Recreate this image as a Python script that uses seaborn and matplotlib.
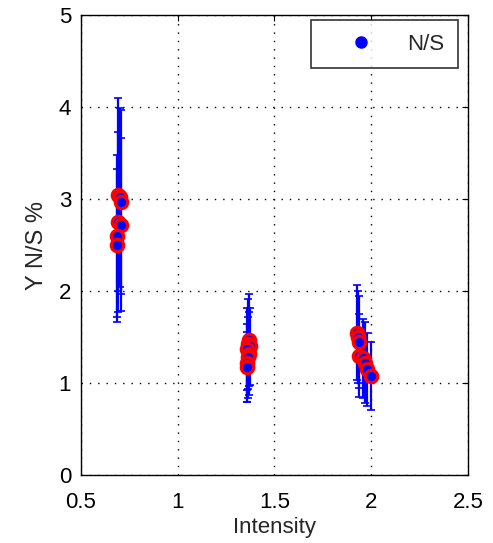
import numpy as np
import pandas as pd
import matplotlib
matplotlib.use("Agg")
import matplotlib.pyplot as plt
import seaborn as sns
from matplotlib.lines import Line2D

# Measurements: intensity, N/S percentage and its error
intensity = [0.690, 0.700, 0.705, 0.690, 0.710, 0.685, 0.685,
             1.370, 1.365, 1.375, 1.360, 1.370, 1.365, 1.360, 1.360,
             1.925, 1.930, 1.935, 1.940, 1.960, 1.970, 1.980, 2.000]
ns_percent = [3.05, 3.02, 2.97, 2.75, 2.72, 2.60, 2.50,
              1.47, 1.43, 1.40, 1.37, 1.32, 1.28, 1.22, 1.18,
              1.55, 1.50, 1.45, 1.30, 1.27, 1.22, 1.15, 1.08]
ns_error = [1.05, 0.97, 1.00, 0.98, 0.94, 0.88, 0.83,
            0.50, 0.49, 0.42, 0.45, 0.45, 0.44, 0.42, 0.38,
            0.52, 0.50, 0.50, 0.45, 0.43, 0.44, 0.40, 0.37]

x_ticks = [0.5, 1, 1.5, 2, 2.5]
x_tick_labels = ["0.5", "1", "1.5", "2", "2.5"]
y_ticks = [0, 1, 2, 3, 4, 5]
y_tick_labels = ["0", "1", "2", "3", "4", "5"]

df = pd.DataFrame({"Intensity": intensity, "NS": ns_percent, "err": ns_error})

sns.set_style("white")
plt.rcParams["font.family"] = ["Liberation Sans", "DejaVu Sans"]

fig = plt.figure(figsize=(4.93, 5.43), dpi=100)
ax = fig.add_axes([0.164, 0.125, 0.785, 0.847])

ax.errorbar(df["Intensity"], df["NS"], yerr=df["err"], fmt="none",
            ecolor="#0000ff", elinewidth=1.6, capsize=3, capthick=1.2, zorder=2)
sns.scatterplot(data=df, x="Intensity", y="NS", ax=ax, color="#0000ff",
                edgecolor="#ff0000", linewidth=2.3, s=80, zorder=3, legend=False)

ax.set_xlim(0.5, 2.5)
ax.set_ylim(0, 5)
ax.set_xticks(x_ticks)
ax.set_xticklabels(x_tick_labels)
ax.set_yticks(y_ticks)
ax.set_yticklabels(y_tick_labels)
ax.set_xlabel("Intensity", fontsize=16, labelpad=3)
ax.set_ylabel("Y N/S %", fontsize=17, labelpad=8)

ax.grid(True, color="black", linestyle=(0, (1, 5)), linewidth=1.0)
ax.tick_params(direction="in", length=4, width=0.8, top=True, right=True,
               labelsize=16, colors="black")
ax.tick_params(axis="x", pad=12)
ax.tick_params(axis="y", pad=7)
for sp in ax.spines.values():
    sp.set_color("black")
    sp.set_linewidth(1.0)

handle = Line2D([], [], linestyle="none", marker="o", markersize=8,
                markerfacecolor="#0000ff", markeredgecolor="#0000ff")
leg = ax.legend([handle], ["N/S"], loc="upper right", fontsize=16,
                frameon=True, fancybox=False, edgecolor="black",
                borderpad=0.6, handletextpad=0.45, handlelength=3.3,
                borderaxespad=0, bbox_to_anchor=(0.974, 0.989))
leg.get_frame().set_linewidth(1.2)

fig.savefig("out.png", dpi=100, facecolor="white")
